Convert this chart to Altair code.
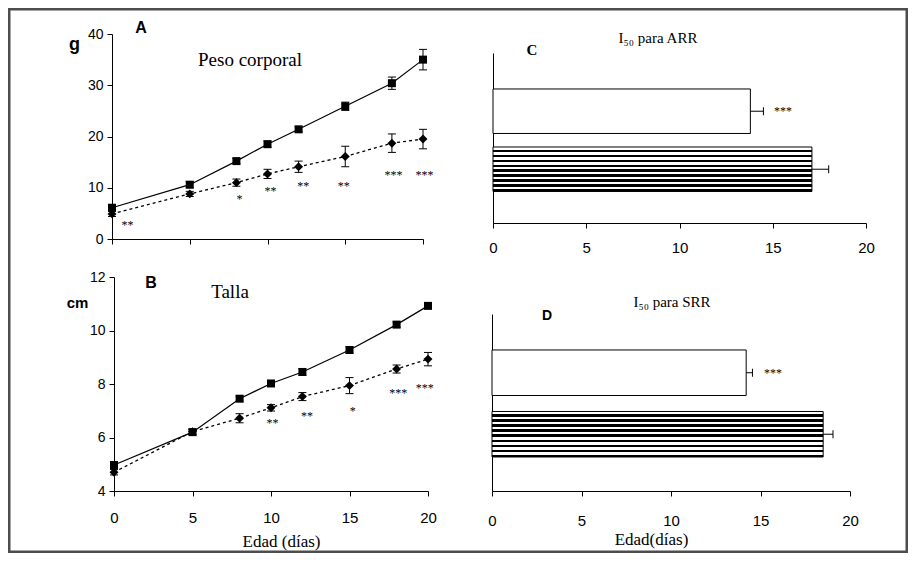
import altair as alt
import pandas as pd

# ---------------- data ----------------
dias = [0, 5, 8, 10, 12, 15, 18, 20]

peso_control = [6.1, 10.6, 15.2, 18.5, 21.4, 25.9, 30.4, 35.0]
peso_control_err = [0.6, 0.6, 0.5, 0.6, 0.5, 0.8, 1.2, 2.0]
peso_tratado = [4.9, 8.8, 11.0, 12.7, 14.1, 16.1, 18.7, 19.5]
peso_tratado_err = [0.5, 0.5, 0.7, 0.9, 1.1, 2.0, 1.8, 1.9]

talla_control = [4.97, 6.2, 7.45, 8.02, 8.45, 9.27, 10.22, 10.92]
talla_control_err = [0.12, 0.1, 0.1, 0.08, 0.12, 0.12, 0.1, 0.1]
talla_tratado = [4.7, 6.22, 6.72, 7.11, 7.53, 7.94, 8.56, 8.93]
talla_tratado_err = [0.1, 0.1, 0.17, 0.12, 0.15, 0.3, 0.15, 0.25]

sig_peso_x = [1.0, 8.2, 10.2, 12.3, 14.9, 18.1, 20.1]
sig_peso_y = [3.4, 8.3, 9.9, 10.9, 10.9, 13.0, 13.0]
sig_peso_txt = ["**", "*", "**", "**", "**", "***", "***"]

sig_talla_x = [10.1, 12.3, 15.2, 18.1, 19.8]
sig_talla_y = [6.65, 6.92, 7.12, 7.77, 7.96]
sig_talla_txt = ["**", "**", "*", "***", "***"]

grupos = ["Tratado", "Control"]
i50_arr = [13.8, 17.1]
i50_arr_err = [0.7, 0.9]
i50_srr = [14.2, 18.5]
i50_srr_err = [0.35, 0.55]
sig_arr_x = [15.55]
sig_srr_x = [15.7]
sig_barras_txt = ["***"]

ticks_x = [0, 5, 10, 15, 20]

# ---------------- style / layout ----------------
SANS = "Liberation Sans"
SERIF = "Liberation Serif"
W, H = 900, 545


def x_axis(offset, labels, title=None, title_x=0, title_y=0, label_pad=14):
    kw = dict(
        orient="bottom", offset=offset, values=ticks_x, labels=labels,
        tickSize=5, labelPadding=label_pad, labelFont=SANS, labelFontSize=15,
        labelFlush=False, grid=False, domainColor="black", tickColor="black",
        labelColor="black",
    )
    if title:
        kw.update(title=title, titleX=title_x, titleY=title_y, titleFont=SERIF,
                  titleFontSize=17, titleFontWeight="normal", titleAlign="center",
                  titleBaseline="alphabetic", titleAngle=0, titleColor="black")
    else:
        kw.update(title=None)
    return alt.Axis(**kw)


def line_panel(ctrl, ctrl_err, trat, trat_err, sx, sy, stxt, xr, yr, ydom, yvals,
               xaxis, yoff, ytitle, ytx, yty, ytsize):
    n = len(dias)
    df = pd.DataFrame({
        "dia": dias * 2,
        "valor": ctrl + trat,
        "err": ctrl_err + trat_err,
        "grupo": ["Control"] * n + ["Tratado"] * n,
    })
    df["lo"] = df["valor"] - df["err"]
    df["hi"] = df["valor"] + df["err"]
    sig = pd.DataFrame({"dia": sx, "valor": sy, "txt": stxt})

    xs = alt.Scale(domain=[0, 20], range=xr, nice=False, zero=False)
    ys = alt.Scale(domain=ydom, range=yr, nice=False, zero=False)
    yaxis = alt.Axis(
        orient="left", offset=yoff, values=yvals, tickSize=5, labelPadding=4,
        labelFont=SANS, labelFontSize=14, grid=False, domainColor="black",
        tickColor="black", labelColor="black",
        title=ytitle, titleAngle=0, titleX=ytx, titleY=yty, titleFont=SANS,
        titleFontSize=ytsize, titleFontWeight="bold", titleAlign="center",
        titleBaseline="alphabetic", titleColor="black",
    )
    ex = alt.X("dia:Q", scale=xs, axis=xaxis)

    def ey(f):
        return alt.Y(f, scale=ys, axis=yaxis)

    base = alt.Chart(df)
    line_c = base.transform_filter("datum.grupo == 'Control'").mark_line(
        color="black", strokeWidth=1.2).encode(x=ex, y=ey("valor:Q"))
    line_t = base.transform_filter("datum.grupo == 'Tratado'").mark_line(
        color="black", strokeWidth=1.3, strokeDash=[3, 3]).encode(x=ex, y=ey("valor:Q"))
    err = base.mark_rule(color="black", strokeWidth=1).encode(
        x=ex, y=ey("lo:Q"), y2="hi:Q")
    cap_lo = base.mark_tick(orient="horizontal", size=8, thickness=1, color="black",
                            opacity=1).encode(x=ex, y=ey("lo:Q"))
    cap_hi = base.mark_tick(orient="horizontal", size=8, thickness=1, color="black",
                            opacity=1).encode(x=ex, y=ey("hi:Q"))
    pts_c = base.transform_filter("datum.grupo == 'Control'").mark_point(
        shape="square", filled=True, size=64, color="black", opacity=1).encode(
        x=ex, y=ey("valor:Q"))
    pts_t = base.transform_filter("datum.grupo == 'Tratado'").mark_point(
        shape="diamond", filled=True, size=80, color="black", opacity=1).encode(
        x=ex, y=ey("valor:Q"))
    sig_t = alt.Chart(sig).mark_text(font=SERIF, fontSize=12, fill="black",
                                     baseline="middle", dy=3).encode(
        x=ex, y=ey("valor:Q"), text="txt:N")
    return alt.layer(line_c, line_t, err, cap_lo, cap_hi, pts_c, pts_t, sig_t)


def stripes(n=9, frac_white=0.55):
    stops = []
    for i in range(n):
        a = i / n
        b = (i + frac_white) / n
        c = (i + 1) / n
        stops += [
            alt.GradientStop(color="white", offset=a),
            alt.GradientStop(color="white", offset=b),
            alt.GradientStop(color="black", offset=b),
            alt.GradientStop(color="black", offset=c),
        ]
    return alt.LinearGradient(gradient="linear", stops=stops, x1=0, x2=0, y1=0, y2=1)


def bar_panel(vals, errs, sigx, xr, yr, pin, pout, align, xaxis, yoff):
    df = pd.DataFrame({
        "grupo": grupos,
        "valor": vals,
        "hi": [v + e for v, e in zip(vals, errs)],
    })
    sig = pd.DataFrame({"grupo": [grupos[0]], "valor": sigx, "txt": sig_barras_txt})
    xs = alt.Scale(domain=[0, 20], range=xr, nice=False, zero=True)
    ys = alt.Scale(domain=grupos, range=yr, paddingInner=pin, paddingOuter=pout,
                   align=align)
    yaxis = alt.Axis(orient="left", offset=yoff, labels=False, ticks=False,
                     title=None, grid=False, domainColor="black")

    def ex(f):
        return alt.X(f, scale=xs, axis=xaxis)

    ey = alt.Y("grupo:N", scale=ys, axis=yaxis)
    base = alt.Chart(df)
    white = base.transform_filter(f"datum.grupo == '{grupos[0]}'").mark_bar(
        fill="white", stroke="black", strokeWidth=1).encode(x=ex("valor:Q"), y=ey)
    striped = base.transform_filter(f"datum.grupo == '{grupos[1]}'").mark_bar(
        fill=stripes(), stroke="black", strokeWidth=1).encode(x=ex("valor:Q"), y=ey)
    err = base.mark_rule(color="black", strokeWidth=1).encode(
        x=ex("valor:Q"), x2="hi:Q", y=ey)
    cap = base.mark_tick(orient="vertical", size=8, thickness=1, color="black",
                         opacity=1).encode(x=ex("hi:Q"), y=ey)
    sig_t = alt.Chart(sig).mark_text(font=SERIF, fontSize=12, fill="black",
                                     baseline="middle", dy=0).encode(
        x=ex("valor:Q"), y=ey, text="txt:N")
    return alt.layer(white, striped, err, cap, sig_t)


panel_a = line_panel(
    peso_control, peso_control_err, peso_tratado, peso_tratado_err,
    sig_peso_x, sig_peso_y, sig_peso_txt,
    xr=[104, 415], yr=[231, 26], ydom=[0, 40], yvals=[0, 10, 20, 30, 40],
    xaxis=x_axis(231 - H, labels=False),
    yoff=-104, ytitle="g", ytx=-38, yty=41, ytsize=18,
)

panel_b = line_panel(
    talla_control, talla_control_err, talla_tratado, talla_tratado_err,
    sig_talla_x, sig_talla_y, sig_talla_txt,
    xr=[106, 420], yr=[483, 269], ydom=[4, 12], yvals=[4, 6, 8, 10, 12],
    xaxis=x_axis(483 - H, labels=True, title="Edad (días)", title_x=273,
                 title_y=55, label_pad=14),
    yoff=-106, ytitle="cm", ytx=-37, yty=299, ytsize=15,
)

panel_c = bar_panel(
    i50_arr, i50_arr_err, sig_arr_x,
    xr=[485, 858], yr=[45, 215], pin=0.233, pout=0.582, align=0.533,
    xaxis=x_axis(215 - H, labels=True, label_pad=12),
    yoff=-485,
)

panel_d = bar_panel(
    i50_srr, i50_srr_err, sig_srr_x,
    xr=[484, 842], yr=[306, 483], pin=0.26, pout=0.569, align=0.514,
    xaxis=x_axis(483 - H, labels=True, title="Edad(días)", title_x=643,
                 title_y=53, label_pad=17),
    yoff=-484,
)


def label(txt, x, y, font, size, weight="normal"):
    return alt.Chart(pd.DataFrame({"t": [txt]})).mark_text(
        font=font, fontSize=size, fontWeight=weight, color="black",
        align="center", baseline="alphabetic").encode(
        text="t:N", x=alt.value(x), y=alt.value(y))


labels = [
    label("A", 133, 25, SANS, 16, "bold"),
    label("Peso corporal", 242, 58, SERIF, 19),
    label("B", 143, 280, SANS, 16, "bold"),
    label("Talla", 222, 290, SERIF, 19),
    label("C", 524, 47, SERIF, 15, "bold"),
    label("I₅₀ para ARR", 650, 35, SERIF, 15),
    label("D", 539, 312, SANS, 14, "bold"),
    label("I₅₀ para SRR", 664, 299, SERIF, 15),
]

chart = alt.layer(panel_a, panel_b, panel_c, panel_d, *labels).resolve_scale(
    x="independent", y="independent"
).properties(
    width=W, height=H, padding=0,
    autosize=alt.AutoSizeParams(type="none"),
).configure(
    background="white"
).configure_view(
    stroke="#4d4d4d", strokeWidth=5
)

chart.save("out.html", embed_options={"renderer": "svg", "actions": False})
